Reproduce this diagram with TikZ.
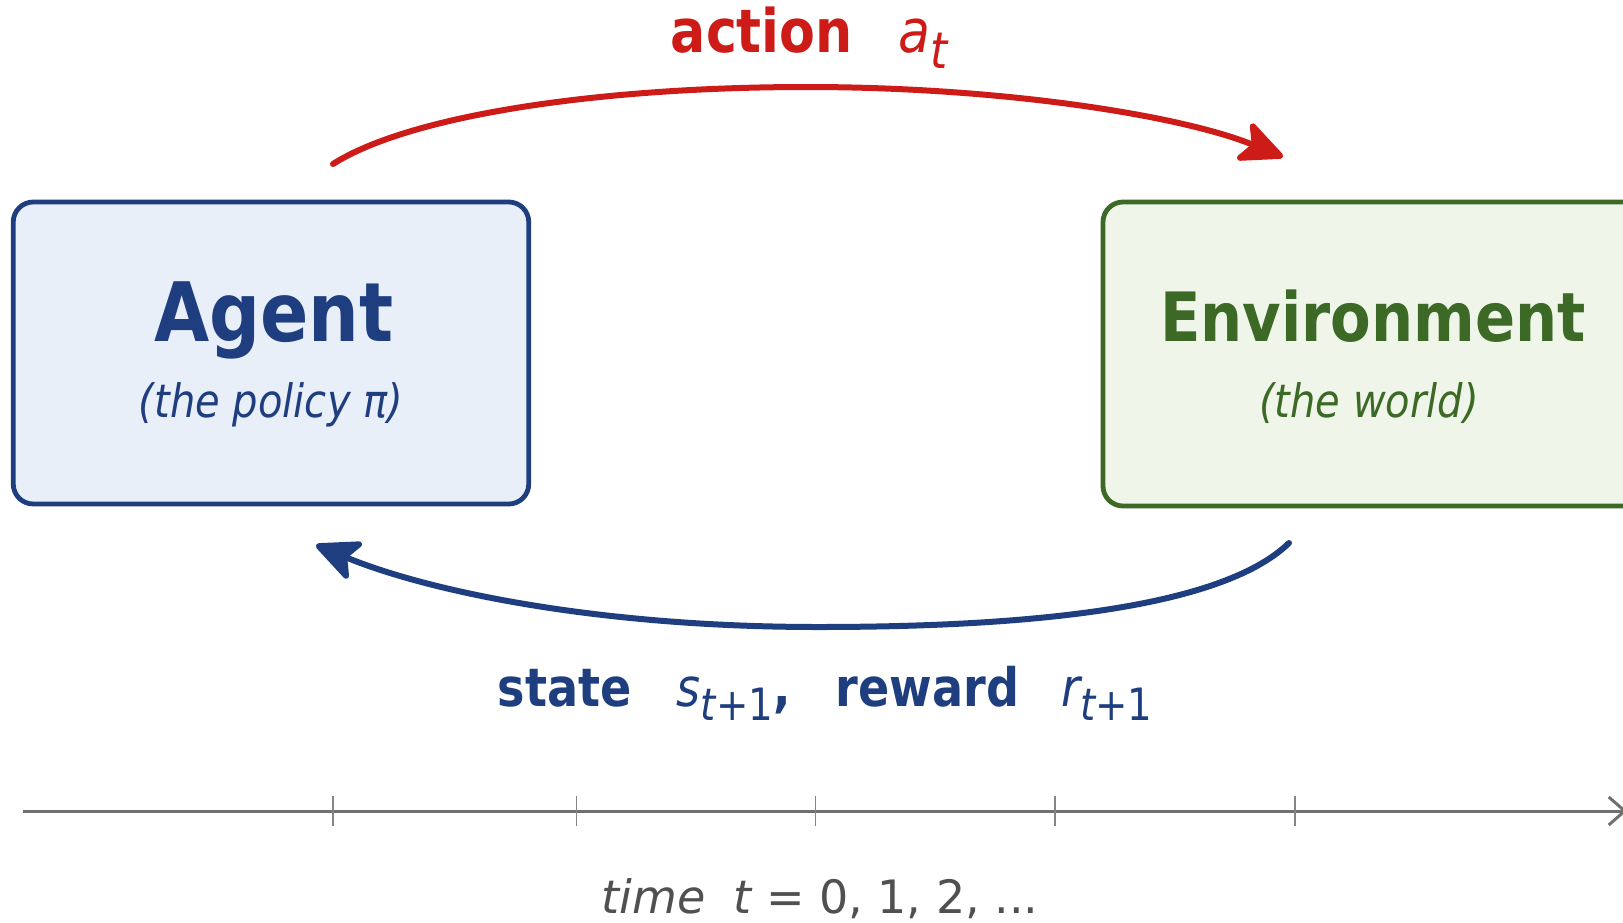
\documentclass[tikz,border=0pt]{standalone}
\usepackage{fontspec}
\setmainfont{DejaVu Sans}
\usetikzlibrary{arrows.meta}

\definecolor{agentblue}{RGB}{30,62,128}
\definecolor{agentfill}{RGB}{233,239,249}
\definecolor{envgreen}{RGB}{60,105,38}
\definecolor{envfill}{RGB}{239,246,233}
\definecolor{actred}{RGB}{205,28,24}
\definecolor{axisgray}{RGB}{112,112,112}
\definecolor{labelgray}{RGB}{80,80,80}

\newcommand\fsz[1]{\fontsize{#1pt}{#1pt}\selectfont}
\newcommand\narrow[1]{\scalebox{0.87}[1]{#1}}
\newcommand\lowsub[1]{\raisebox{-0.27em}{\scalebox{0.84}{#1}}}

\begin{document}
\begin{tikzpicture}[x=0.5pt,y=-0.5pt,
  box/.style={rounded corners=10pt, line width=2.4pt, inner sep=0pt},
  agentbox/.style={box, draw=agentblue, fill=agentfill,
    minimum width=257.75pt, minimum height=151pt},
  envbox/.style={box, draw=envgreen, fill=envfill,
    minimum width=273.5pt, minimum height=152pt},
  label/.style={anchor=base, inner sep=0pt},
  flow/.style={line width=3pt, line cap=round,
    -{Stealth[length=25pt,width=23pt,inset=6pt,round]}},
  ]
  \useasboundingbox (0,0) rectangle (1623,922);
  \fill[white] (0,0) rectangle (1623,922);

  % the two boxes
  \node[agentbox] (agent) at (271,353) {};
  \node[envbox] (env) at (1376.5,354) {};

  \node[label, text=agentblue, font=\bfseries\fsz{41}] (agenttitle) at (274,341.6) {\narrow{Agent}};
  \node[label, text=agentblue, font=\itshape\fsz{23}] (agentsub) at (271,417) {\narrow{(the policy π)}};
  \node[label, text=envgreen, font=\bfseries\fsz{34}] (envtitle) at (1373,341.6) {\narrow{Environment}};
  \node[label, text=envgreen, font=\itshape\fsz{23}] (envsub) at (1369,417) {\narrow{(the world)}};

  % action arrow, agent -> environment
  \coordinate (actstart) at (333,164);
  \coordinate (actpeak) at (807,87);
  \coordinate (acttip) at (1283,157);
  \draw[flow, actred] (actstart) .. controls (410,115) and (600,87) .. (actpeak)
    .. controls (1000,87) and (1180,115) .. (acttip);
  \node[label, text=actred, font=\bfseries\fsz{30}] (actlabel) at (809,52)
    {\narrow{action\hspace{26pt}{\mdseries\itshape a\lowsub{t}}}};

  % state / reward arrow, environment -> agent
  \coordinate (obsstart) at (1289,543);
  \coordinate (obslow) at (818,627);
  \coordinate (obstip) at (316,545);
  \draw[flow, agentblue] (obsstart) .. controls (1220,610) and (1020,627) .. (obslow)
    .. controls (600,627) and (430,592) .. (obstip);
  \node[label, text=agentblue, font=\bfseries\fsz{26.5}] (obslabel) at (825,706)
    {\narrow{state\hspace{26pt}{\mdseries\itshape s\lowsub{t{\upshape+1}}},\hspace{26pt}reward\hspace{24pt}{\mdseries\itshape r\lowsub{t{\upshape+1}}}}};

  % time axis
  \coordinate (tstart) at (23,811);
  \coordinate (tend) at (1627,811);
  \draw[axisgray, line width=1.5pt, -{Straight Barb[length=8pt,width=14pt]}] (tstart) -- (tend);
  \foreach \x in {333,576.5,815.6,1054.7,1294.8}
    \draw[axisgray!85, line width=0.8pt] (\x,796) -- (\x,826);
  \node[label, text=labelgray, font=\fsz{23}] (timelabel) at (820,913)
    {{\itshape time}\hspace{14pt}{\itshape t} = 0, 1, 2, ...};
\end{tikzpicture}
\end{document}
